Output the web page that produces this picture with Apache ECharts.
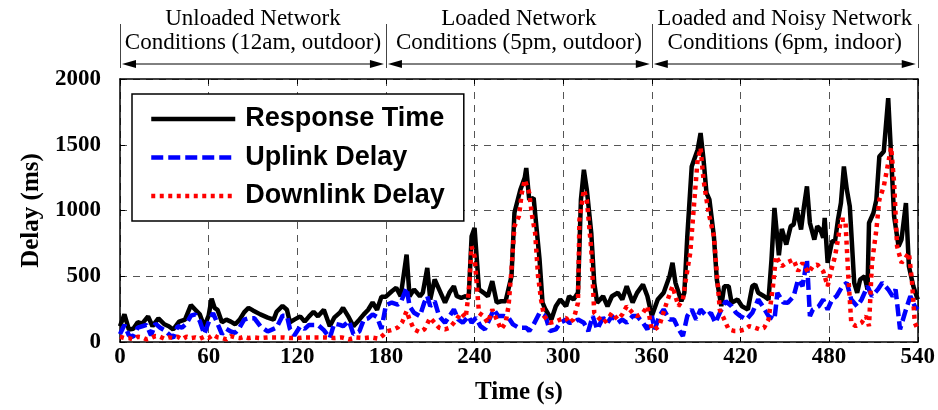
<!DOCTYPE html>
<html><head><meta charset="utf-8">
<script src="https://cdn.jsdelivr.net/npm/echarts@6/dist/echarts.min.js"></script>
<style>html,body{margin:0;padding:0;background:#fff}#c{width:938px;height:410px}</style>
</head><body><div id="c"></div>
<script>
// ---- data (time in s, delay in ms) ----
const xTicks = [0, 60, 120, 180, 240, 300, 360, 420, 480, 540];
const yTicks = [0, 500, 1000, 1500, 2000];
const phaseBounds = [0, 180, 360, 540];
const phaseLabels = [
  ['Unloaded Network', 'Conditions (12am, outdoor)'],
  ['Loaded Network', 'Conditions (5pm, outdoor)'],
  ['Loaded and Noisy Network', 'Conditions (6pm, indoor)']
];
const seriesNames = ['Response Time', 'Uplink Delay', 'Downlink Delay'];

const respT = [0,3,6,9,12,15,19,22,26,30,33,36,40,44,48,51,54,57,60,62,64,66,69,72,75,78,81,84,87,90,
  95,100,104,106,110,113,115,118,122,125,128,131,134,138,142,145,149,151,155,158,162,165,168,171,174,177,180,
  184,187,190,194,196,199,203,205,208,210,213,216,220,223,226,228,231,234,236,238,240,243,246,249,252,255,258,261,265,267,271,274,
  275,277,280,284,286,288,292,295,298,302,304,307,310,312,314,316,319,321,323,327,330,333,337,340,343,347,350,354,357,360,
  364,368,372,374,376,380,382,384,387,391,393,395,397,399,402,404,407,409,412,414,418,421,425,428,430,432,436,439,441,443,446,448,
  451,454,456,458,461,463,465,467,470,472,474,476,477,479,482,484,486,488,490,492,494,497,499,501,504,506,507,510,512,514,517,520,522,524,527,529,532,534,537,540];
const respV = [120,210,95,100,150,140,195,120,180,135,120,95,155,170,280,245,210,118,200,330,260,245,150,170,155,135,170,225,260,240,
  210,185,170,230,275,245,150,170,195,155,195,230,195,245,120,185,225,260,185,120,170,210,245,300,245,345,345,
  386,412,348,665,348,400,348,376,563,323,475,400,300,376,424,348,336,348,330,804,867,400,376,348,462,300,310,310,500,983,1158,1250,
  1323,1082,1095,627,300,247,171,272,323,272,348,323,374,1082,1310,1158,830,450,298,348,272,348,374,323,424,300,374,437,348,197,
  323,374,500,602,450,310,374,804,1335,1462,1589,1386,1133,1082,804,475,272,424,424,298,323,272,247,424,437,374,348,323,627,1019,660,860,
  741,880,893,1019,855,1032,1183,905,779,880,855,792,943,602,766,766,930,1057,1335,1158,1032,450,374,475,500,400,905,981,1082,1411,1449,1854,1411,955,728,779,1057,576,424,323];

const upT = [0,3,6,9,12,15,18,21,24,27,30,33,36,39,42,45,48,51,54,57,60,63,66,69,72,75,78,81,84,87,
  91,95,100,104,106,110,113,115,118,122,125,128,131,134,138,142,145,149,151,155,158,162,165,168,171,174,177,180,
  184,188,190,194,196,199,203,206,208,210,213,216,220,223,226,229,232,236,238,241,244,247,250,253,256,260,263,266,270,
  275,277,280,284,288,291,295,298,302,304,307,310,314,317,320,323,327,330,333,337,340,343,347,350,354,357,360,
  362,365,368,372,375,378,381,384,387,390,393,397,400,403,406,410,414,417,420,424,428,432,435,439,443,445,449,
  452,456,459,462,465,467,469,473,476,479,482,485,489,492,495,499,502,506,509,513,516,520,523,525,528,532,535,538,540];
const upV = [60,130,50,40,110,120,130,50,140,110,90,60,30,120,110,140,200,210,160,60,150,220,140,60,100,80,70,110,170,180,
  180,120,80,100,110,200,200,100,50,120,100,130,130,130,90,30,140,130,120,160,60,80,170,180,210,190,100,280,
  300,285,300,412,272,222,197,300,348,272,310,197,146,197,247,171,146,197,146,184,121,96,171,247,197,197,184,134,108,
  108,83,134,222,197,83,96,146,171,146,146,171,146,83,197,96,184,146,197,146,171,146,197,197,146,96,197,
  96,197,247,171,171,100,45,197,247,171,247,197,222,146,222,310,272,222,197,171,222,323,272,197,171,374,300,
  298,348,475,424,627,197,247,272,323,247,323,348,424,450,323,272,323,424,348,400,450,400,348,400,96,247,348,272,247];

const downT = [0,3,6,9,12,15,18,21,24,27,30,33,36,39,42,45,48,51,54,57,60,63,66,69,72,75,78,81,84,87,90,
  95,100,105,110,115,120,125,130,135,140,145,150,155,160,165,170,175,178,181,185,188,191,194,196,199,203,206,210,213,216,220,223,226,
  231,234,236,238,240,243,246,249,252,255,258,261,263,265,267,270,272,274,277,279,281,283,285,287,291,295,298,302,304,307,310,311,
  314,316,319,321,323,327,330,333,337,340,343,347,350,354,357,360,362,365,370,374,378,381,383,386,389,391,393,395,397,399,402,404,406,
  410,412,416,419,423,426,430,433,436,439,442,444,448,451,456,459,462,466,469,472,476,479,481,484,486,488,491,493,495,498,502,505,507,
  509,512,514,517,520,522,524,526,529,531,534,536,538,540];
const downV = [40,30,30,20,40,35,20,30,45,40,25,35,30,40,20,40,30,35,25,40,30,55,35,30,20,45,35,30,40,30,35,
  30,35,35,35,30,30,35,35,35,35,30,35,20,35,30,35,25,50,83,95,110,150,235,171,96,75,96,184,146,108,96,108,146,
  222,184,374,728,652,222,197,146,247,171,96,146,272,551,880,955,1134,1234,1134,955,830,500,323,197,146,156,171,184,146,171,298,930,
  1158,1082,703,222,197,146,171,222,171,210,272,222,197,222,272,96,96,121,298,424,272,323,475,678,1107,1386,1475,1234,1082,955,804,526,247,
  146,96,83,83,96,121,108,96,108,171,424,652,576,602,627,538,602,526,576,589,538,424,526,652,779,930,930,500,146,121,146,197,121,
  602,855,1082,1183,1361,1480,1209,728,602,627,678,475,146,96];

function zip(t, v) { return t.map((x, i) => [x, v[i]]); }

const SERIF = '"Liberation Serif","Times New Roman",serif';
const SANS = '"Liberation Sans",Arial,sans-serif';

const chart = echarts.init(document.getElementById('c'), null, {renderer: 'canvas'});
const gridLine = {show: true, lineStyle: {color: '#555', width: 1, type: [7, 6]}};
const baseX = {
  type: 'value', min: xTicks[0], max: xTicks[xTicks.length - 1], interval: xTicks[1] - xTicks[0],
  axisLine: {show: true, onZero: false, lineStyle: {color: '#000', width: 1.5}},
  axisTick: {show: true, inside: true, length: 5, lineStyle: {color: '#000', width: 1}}
};
const baseY = {
  type: 'value', min: yTicks[0], max: yTicks[yTicks.length - 1], interval: yTicks[1] - yTicks[0],
  axisLine: {show: true, onZero: false, lineStyle: {color: '#000', width: 1.5}},
  axisTick: {show: true, inside: true, length: 5, lineStyle: {color: '#000', width: 1}}
};
const lineStyles = [
  {color: '#000', width: 4.5, type: 'solid'},
  {color: '#0000ff', width: 4.5, type: [12, 5]},
  {color: '#ff0000', width: 4.5, type: [4, 4.5]}
];

chart.setOption({
  animation: false,
  backgroundColor: '#fff',
  grid: {left: 120, right: 19, top: 79, bottom: 67, containLabel: false},
  legend: {
    orient: 'vertical', left: 132, top: 94,
    data: seriesNames,
    itemWidth: 84, itemHeight: 28, itemGap: 10.5,
    padding: [11, 19, 11, 17],
    itemStyle: {opacity: 0},
    lineStyle: {width: 'inherit', type: 'inherit'},
    backgroundColor: '#fff', borderColor: '#000', borderWidth: 1.5, borderRadius: 0,
    textStyle: {fontFamily: SANS, fontWeight: 'bold', fontSize: 27, color: '#000', lineHeight: 28, padding: [0, 0, 0, 5]}
  },
  xAxis: [
    Object.assign({}, baseX, {
      position: 'bottom',
      splitLine: gridLine,
      axisLabel: {color: '#000', fontFamily: SERIF, fontWeight: 'bold', fontSize: 23, margin: 4, formatter: v => String(v)},
      name: 'Time (s)', nameLocation: 'middle', nameGap: 38,
      nameTextStyle: {color: '#000', fontFamily: SERIF, fontWeight: 'bold', fontSize: 25}
    }),
    Object.assign({}, baseX, {position: 'top', splitLine: {show: false}, axisLabel: {show: false}})
  ],
  yAxis: [
    Object.assign({}, baseY, {
      position: 'left',
      splitLine: gridLine,
      axisLabel: {color: '#000', fontFamily: SERIF, fontWeight: 'bold', fontSize: 23, margin: 19, formatter: v => String(v)},
      name: 'Delay (ms)', nameLocation: 'middle', nameGap: 74, nameRotate: 90,
      nameTextStyle: {color: '#000', fontFamily: SERIF, fontWeight: 'bold', fontSize: 25}
    }),
    Object.assign({}, baseY, {position: 'right', splitLine: {show: false}, axisLabel: {show: false}})
  ],
  series: [
    {name: seriesNames[0], type: 'line', data: zip(respT, respV), showSymbol: false, symbol: 'none',
      color: '#000', lineStyle: lineStyles[0], z: 2},
    {name: seriesNames[1], type: 'line', data: zip(upT, upV), showSymbol: false, symbol: 'none',
      color: '#0000ff', lineStyle: lineStyles[1], z: 3},
    {name: seriesNames[2], type: 'line', data: zip(downT, downV), showSymbol: false, symbol: 'none',
      color: '#ff0000', lineStyle: lineStyles[2], z: 4}
  ]
});

// phase annotations above the plot, positioned via the x axis scale
function px(v) { return chart.convertToPixel({xAxisIndex: 0}, v); }
const g = [];
const sepTop = 24, sepBottom = 68, arrowY = 64;
phaseBounds.forEach(b => {
  const x = Math.round(px(b)) + 0.5;
  g.push({type: 'line', shape: {x1: x, y1: sepTop, x2: x, y2: sepBottom}, style: {stroke: '#444', lineWidth: 1}});
});
for (let i = 0; i < phaseLabels.length; i++) {
  const a = px(phaseBounds[i]) + 2, b = px(phaseBounds[i + 1]) - 2, c = (a + b) / 2;
  g.push({type: 'line', shape: {x1: a + 10, y1: arrowY, x2: b - 10, y2: arrowY}, style: {stroke: '#000', lineWidth: 1}});
  g.push({type: 'polygon', shape: {points: [[a, arrowY], [a + 14, arrowY - 4], [a + 14, arrowY + 4]]}, style: {fill: '#000'}});
  g.push({type: 'polygon', shape: {points: [[b, arrowY], [b - 14, arrowY - 4], [b - 14, arrowY + 4]]}, style: {fill: '#000'}});
  g.push({type: 'text', x: c, y: 19, style: {text: phaseLabels[i][0], fontFamily: SERIF, fontSize: 23, fill: '#000', align: 'center', verticalAlign: 'middle'}});
  g.push({type: 'text', x: c, y: 43, style: {text: phaseLabels[i][1], fontFamily: SERIF, fontSize: 23, fill: '#000', align: 'center', verticalAlign: 'middle'}});
}
chart.setOption({graphic: g});
</script></body></html>
